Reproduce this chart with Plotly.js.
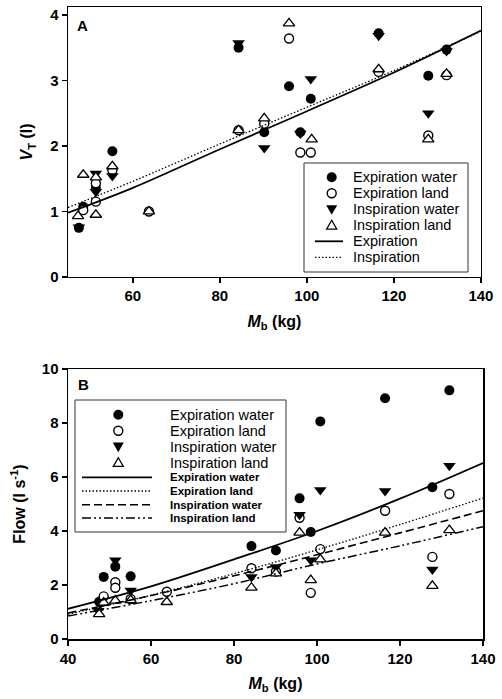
<!DOCTYPE html>
<html><head><meta charset="utf-8">
<script src="https://cdn.plot.ly/plotly-3.0.1.min.js"></script>
<style>html,body{margin:0;padding:0;background:#fff}#chart{width:502px;height:699px}</style>
</head><body><div id="chart"></div>
<script>
// ---------- Panel A : tidal volume VT (l) vs body mass Mb (kg) ----------
const aExpWaterX = [47.6, 48.6, 51.5, 55.3, 84.3, 90.2, 95.9, 98.5, 100.9, 116.5, 127.9, 132.1];
const aExpWaterY = [0.75, 1.07, 1.36, 1.92, 3.50, 2.21, 2.91, 2.21, 2.72, 3.72, 3.07, 3.47];
const aExpLandX  = [48.6, 51.5, 51.5, 55.3, 63.7, 84.3, 90.2, 95.9, 98.5, 100.9, 116.5, 127.9, 132.1];
const aExpLandY  = [1.02, 1.43, 1.15, 1.63, 1.00, 2.24, 2.34, 3.64, 1.90, 1.90, 3.13, 2.16, 3.08];
const aInsWaterX = [47.6, 51.5, 51.5, 55.3, 84.3, 90.2, 98.5, 100.9, 116.5, 127.9, 132.1];
const aInsWaterY = [0.76, 1.58, 1.30, 1.54, 3.57, 1.97, 2.19, 3.02, 3.68, 2.50, 3.45];
const aInsLandX  = [47.4, 48.6, 51.5, 51.5, 55.3, 63.7, 84.3, 90.2, 95.9, 101.1, 116.5, 127.9, 132.1];
const aInsLandY  = [0.93, 1.56, 1.52, 0.95, 1.69, 1.00, 2.24, 2.42, 3.87, 2.10, 3.17, 2.10, 3.10];
const aFitX      = [45.1, 60, 80, 100, 120, 140];
const aFitExpY   = [0.98, 1.36, 1.95, 2.53, 3.12, 3.76];
const aFitInsY   = [1.06, 1.46, 2.03, 2.59, 3.15, 3.75];

// ---------- Panel B : Flow (l s-1) vs body mass Mb (kg) ----------
const bExpWaterX = [47.5, 48.6, 51.4, 55.1, 84.2, 90.1, 95.8, 98.5, 100.8, 116.4, 127.8, 131.9];
const bExpWaterY = [1.38, 2.30, 2.68, 2.32, 3.44, 3.28, 5.21, 3.96, 8.06, 8.92, 5.62, 9.21];
const bExpLandX  = [48.6, 51.4, 51.4, 55.1, 63.8, 84.2, 90.1, 95.8, 98.5, 100.8, 116.4, 127.8, 131.9];
const bExpLandY  = [1.58, 2.10, 1.90, 1.48, 1.75, 2.62, 2.50, 4.49, 1.71, 3.33, 4.75, 3.04, 5.37];
const bInsWaterX = [47.3, 47.8, 51.4, 55.1, 84.2, 90.1, 95.8, 98.5, 100.8, 116.4, 127.8, 131.9];
const bInsWaterY = [1.05, 1.30, 2.92, 1.80, 2.30, 2.67, 4.60, 2.92, 5.52, 5.48, 2.57, 6.42];
const bInsLandX  = [47.5, 48.6, 51.4, 55.1, 63.8, 84.2, 90.1, 95.8, 98.5, 100.8, 116.4, 127.8, 131.9];
const bInsLandY  = [0.92, 1.35, 1.42, 1.44, 1.37, 1.90, 2.43, 3.94, 2.18, 2.95, 3.94, 1.97, 4.03];
const bFitX         = [40, 60, 80, 100, 120, 140];
const bFitExpWaterY = [1.12, 1.95, 2.95, 4.00, 5.20, 6.52];
const bFitExpLandY  = [0.92, 1.62, 2.42, 3.30, 4.24, 5.22];
const bFitInsWaterY = [0.96, 1.61, 2.34, 3.12, 3.93, 4.75];
const bFitInsLandY  = [0.85, 1.42, 2.05, 2.78, 3.45, 4.16];

// legend labels
const pointLabels = ['Expiration water', 'Expiration land', 'Inspiration water', 'Inspiration land'];
const aLineLabels = ['Expiration', 'Inspiration'];
const bLineLabels = ['Expiration water', 'Expiration land', 'Inspiration water', 'Inspiration land'];

const FONT = 'Liberation Sans, Arial, Helvetica, sans-serif';
const W = 502, H = 699, ML = 68, MR = 19, MT = 7, MB = 60;
const px2x = p => (p - ML) / (W - ML - MR);
const py2y = p => (H - MB - p) / (H - MT - MB);

const mk = {
  filledCircle: {symbol:'circle', size:10, color:'black', line:{width:0}},
  openCircle:   {symbol:'circle', size:9, color:'white', line:{color:'black', width:1.4}},
  filledDown:   {symbol:'triangle-down', size:11, color:'black', line:{width:0}},
  openUp:       {symbol:'triangle-up', size:10, color:'white', line:{color:'black', width:1.3}}
};
const markerList = [mk.filledCircle, mk.openCircle, mk.filledDown, mk.openUp];
const aLineStyles = [{dash:'solid', width:1.8}, {dash:'1.5px,2px', width:1.3}];
const bLineStyles = [{dash:'solid', width:1.8}, {dash:'1.5px,2px', width:1.3},
                     {dash:'8px,4px', width:1.6}, {dash:'9px,3px,2px,3px,2px,3px', width:1.5}];

function pts(x, y, name, marker, xa, ya) {
  return {type:'scatter', mode:'markers', x:x, y:y, name:name, marker:marker,
          xaxis:xa, yaxis:ya, showlegend:false, hoverinfo:'x+y'};
}
function fit(x, y, name, st, xa, ya) {
  return {type:'scatter', mode:'lines', x:x, y:y, name:name,
          line:{color:'black', width:st.width, dash:st.dash, shape:'spline'},
          xaxis:xa, yaxis:ya, showlegend:false, hoverinfo:'skip'};
}

const data = [
  pts(aExpWaterX, aExpWaterY, pointLabels[0], mk.filledCircle, 'x', 'y'),
  pts(aExpLandX,  aExpLandY,  pointLabels[1], mk.openCircle,   'x', 'y'),
  pts(aInsWaterX, aInsWaterY, pointLabels[2], mk.filledDown,   'x', 'y'),
  pts(aInsLandX,  aInsLandY,  pointLabels[3], mk.openUp,       'x', 'y'),
  fit(aFitX, aFitExpY, aLineLabels[0], aLineStyles[0], 'x', 'y'),
  fit(aFitX, aFitInsY, aLineLabels[1], aLineStyles[1], 'x', 'y'),

  pts(bExpWaterX, bExpWaterY, pointLabels[0], mk.filledCircle, 'x2', 'y2'),
  pts(bExpLandX,  bExpLandY,  pointLabels[1], mk.openCircle,   'x2', 'y2'),
  pts(bInsWaterX, bInsWaterY, pointLabels[2], mk.filledDown,   'x2', 'y2'),
  pts(bInsLandX,  bInsLandY,  pointLabels[3], mk.openUp,       'x2', 'y2'),
  fit(bFitX, bFitExpWaterY, bLineLabels[0], bLineStyles[0], 'x2', 'y2'),
  fit(bFitX, bFitExpLandY,  bLineLabels[1], bLineStyles[1], 'x2', 'y2'),
  fit(bFitX, bFitInsWaterY, bLineLabels[2], bLineStyles[2], 'x2', 'y2'),
  fit(bFitX, bFitInsLandY,  bLineLabels[3], bLineStyles[3], 'x2', 'y2')
];

// ---- hand-built legend boxes (layout decoration) ----
const shapes = [];
const annotations = [];
function legendSymbol(m, cx, cy) {
  const base = {xref:'paper', yref:'paper', xsizemode:'pixel', ysizemode:'pixel',
                xanchor:px2x(cx), yanchor:py2y(cy), layer:'above'};
  const r = m.size / 2;
  const fill = m.color;
  const ln = m.line && m.line.width ? {color:m.line.color, width:m.line.width} : {width:0};
  if (m.symbol === 'circle') {
    shapes.push(Object.assign({}, base, {type:'circle', x0:-r, x1:r, y0:-r, y1:r,
      fillcolor:fill, line:ln}));
  } else if (m.symbol === 'triangle-down') {
    shapes.push(Object.assign({}, base, {type:'path',
      path:`M${-r},${r*0.75} L${r},${r*0.75} L0,${-r} Z`, fillcolor:fill, line:ln}));
  } else {
    shapes.push(Object.assign({}, base, {type:'path',
      path:`M${-r},${-r*0.75} L${r},${-r*0.75} L0,${r} Z`, fillcolor:fill, line:ln}));
  }
}
function legendLine(st, x0, x1, cy) {
  shapes.push({type:'line', xref:'paper', yref:'paper', x0:px2x(x0), x1:px2x(x1),
    y0:py2y(cy), y1:py2y(cy), line:{color:'black', width:st.width, dash:st.dash}, layer:'above'});
}
function legendText(t, x, cy, size, bold) {
  annotations.push({text:t, xref:'paper', yref:'paper', x:px2x(x), y:py2y(cy),
    xanchor:'left', yanchor:'middle', showarrow:false,
    font:{family:FONT, size:size, color:'black', weight: bold ? 'bold' : 'normal'}});
}
function legendBox(x0, x1, y0, y1) {
  shapes.push({type:'rect', xref:'paper', yref:'paper', x0:px2x(x0), x1:px2x(x1),
    y0:py2y(y0), y1:py2y(y1), line:{color:'#333', width:1}, fillcolor:'white', layer:'above'});
}

// Legend A
legendBox(304, 468, 163, 272);
const aRows = [177.3, 193.3, 209.3, 225.3, 241.3, 257.3];
pointLabels.forEach((lab, i) => { legendSymbol(markerList[i], 331.7, aRows[i]); legendText(lab, 351, aRows[i], 14.5, false); });
aLineLabels.forEach((lab, i) => { legendLine(aLineStyles[i], 315, 343, aRows[4 + i]); legendText(lab, 351, aRows[4 + i], 14.5, false); });

// Legend B
legendBox(75, 286, 400, 532);
const bRows = [414.7, 430.7, 446.7, 462.7, 477.3, 491, 504.7, 518];
pointLabels.forEach((lab, i) => { legendSymbol(markerList[i], 118.3, bRows[i]); legendText(lab, 167.5, bRows[i], 14.5, false); });
bLineLabels.forEach((lab, i) => { legendLine(bLineStyles[i], 82, 152, bRows[4 + i]); legendText(lab, 167.5, bRows[4 + i], 11.5, true); });

// panel letters
annotations.push({text:'A', xref:'paper', yref:'paper', x:px2x(82), y:py2y(25), xanchor:'center', yanchor:'middle',
  showarrow:false, font:{family:FONT, size:15, weight:'bold', color:'black'}});
annotations.push({text:'B', xref:'paper', yref:'paper', x:px2x(83), y:py2y(384), xanchor:'center', yanchor:'middle',
  showarrow:false, font:{family:FONT, size:15, weight:'bold', color:'black'}});

const tickFont = {family:FONT, size:15, color:'black', weight:'bold'};
const titleFont = {family:FONT, size:16, color:'black', weight:'bold'};
const axisBase = {showline:true, mirror:true, linecolor:'black', linewidth:1.5,
  ticks:'outside', ticklen:5, tickwidth:1.5, tickcolor:'black',
  showgrid:false, zeroline:false, tickfont:tickFont, fixedrange:true};

const layout = {
  width:W, height:H,
  margin:{l:ML, r:MR, t:MT, b:MB},
  paper_bgcolor:'white', plot_bgcolor:'white',
  font:{family:FONT, color:'black'},
  showlegend:false,
  xaxis: Object.assign({}, axisBase, {domain:[0, 0.995], range:[45.1, 140], anchor:'y',
    tickvals:[60, 80, 100, 120, 140],
    title:{text:'<i>M</i><sub>b</sub> (kg)', font:titleFont, standoff:12}}),
  yaxis: Object.assign({}, axisBase, {domain:[0.5728, 1], range:[0, 4.12], anchor:'x',
    tickvals:[0, 1, 2, 3, 4],
    title:{text:'<i>V</i><sub>T</sub> (l)', font:titleFont, standoff:13}}),
  xaxis2: Object.assign({}, axisBase, {domain:[0, 1], range:[40, 140], anchor:'y2',
    tickvals:[40, 60, 80, 100, 120, 140],
    title:{text:'<i>M</i><sub>b</sub> (kg)', font:titleFont, standoff:12}}),
  yaxis2: Object.assign({}, axisBase, {domain:[0, 0.4272], range:[0, 10], anchor:'x2',
    tickvals:[0, 2, 4, 6, 8, 10],
    title:{text:'Flow (l s<sup>-1</sup>)', font:titleFont, standoff:12}}),
  shapes:shapes,
  annotations:annotations
};

Plotly.newPlot('chart', data, layout, {displayModeBar:false, staticPlot:true});
</script></body></html>
